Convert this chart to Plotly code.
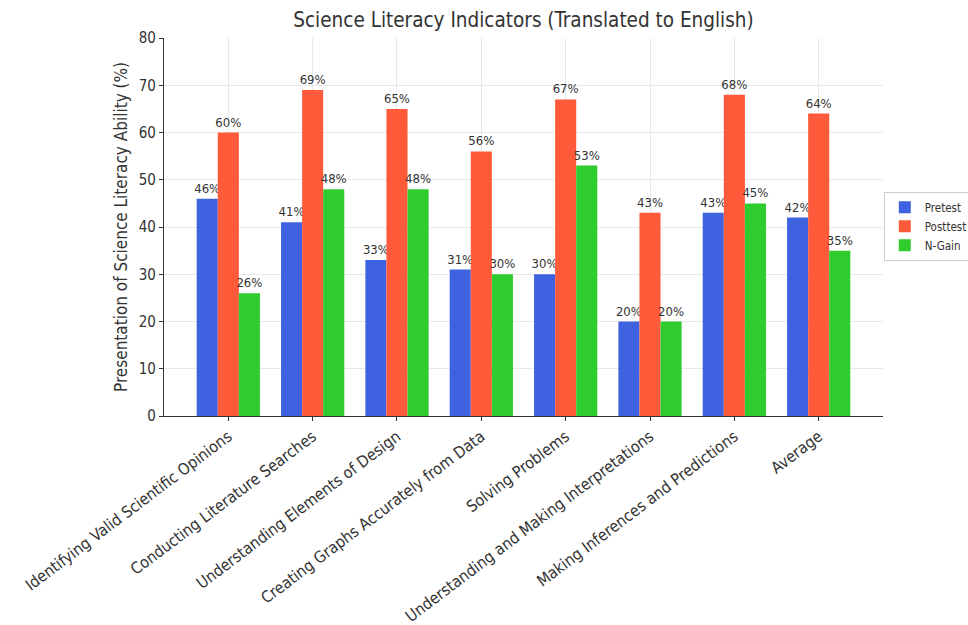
import plotly.graph_objects as go

categories = [
    "Identifying Valid Scientific Opinions",
    "Conducting Literature Searches",
    "Understanding Elements of Design",
    "Creating Graphs Accurately from Data",
    "Solving Problems",
    "Understanding and Making Interpretations",
    "Making Inferences and Predictions",
    "Average",
]
pretest = [46, 41, 33, 31, 30, 20, 43, 42]
posttest = [60, 69, 65, 56, 67, 43, 68, 64]
ngain = [26, 48, 48, 30, 53, 20, 45, 35]
y_ticks = [0, 10, 20, 30, 40, 50, 60, 70, 80]

FONT = "DejaVu Sans Condensed, DejaVu Sans"
series = [("Pretest", pretest, "#3f63e0"), ("Posttest", posttest, "#ff5a3a"), ("N-Gain", ngain, "#2ecc2e")]

fig = go.Figure()
for name, vals, color in series:
    fig.add_trace(go.Bar(
        name=name, x=categories, y=vals, marker=dict(color=color, line=dict(width=0)),
        text=[f"{v}%" for v in vals], textposition="outside", constraintext="none",
        textfont=dict(family=FONT, size=13, color="#333333"),
        cliponaxis=False,
    ))

fig.update_layout(
    width=968, height=625,
    margin=dict(l=164, r=85, t=38, b=209),
    paper_bgcolor="white", plot_bgcolor="white",
    barmode="group", bargap=0.25, bargroupgap=0,
    font=dict(family=FONT, color="#333333"),
    title=dict(text="Science Literacy Indicators (Translated to English)",
               x=0.5, xref="paper", xanchor="center", y=0.968, yanchor="middle",
               font=dict(family=FONT, size=20.5, color="#333333")),
    legend=dict(xref="container", yref="container", x=0.913, xanchor="left", y=0.638, yanchor="middle",
                bordercolor="#cccccc", borderwidth=1, bgcolor="white",
                font=dict(family=FONT, size=11.5, color="#333333"),
                tracegroupgap=2),
    showlegend=True,
)
fig.update_xaxes(
    range=[-0.7625, 7.7625], tickangle=-37, automargin=False,
    showgrid=True, gridcolor="#e8e8e8", gridwidth=1,
    showline=True, linecolor="#333333", linewidth=1.3,
    ticks="outside", ticklen=4, tickcolor="#333333",
    tickfont=dict(family=FONT, size=16, color="#333333"),
)
fig.update_yaxes(
    range=[0, 80], tickvals=y_ticks, automargin=False,
    showgrid=True, gridcolor="#e8e8e8", gridwidth=1,
    showline=True, linecolor="#333333", linewidth=1.3,
    ticks="outside", ticklen=4, tickcolor="#333333",
    tickfont=dict(family=FONT, size=15, color="#333333"),
    zeroline=False,
    title=dict(text="Presentation of Science Literacy Ability (%)", standoff=6,
               font=dict(family=FONT, size=17, color="#333333")),
)

fig.write_html("out.html")
